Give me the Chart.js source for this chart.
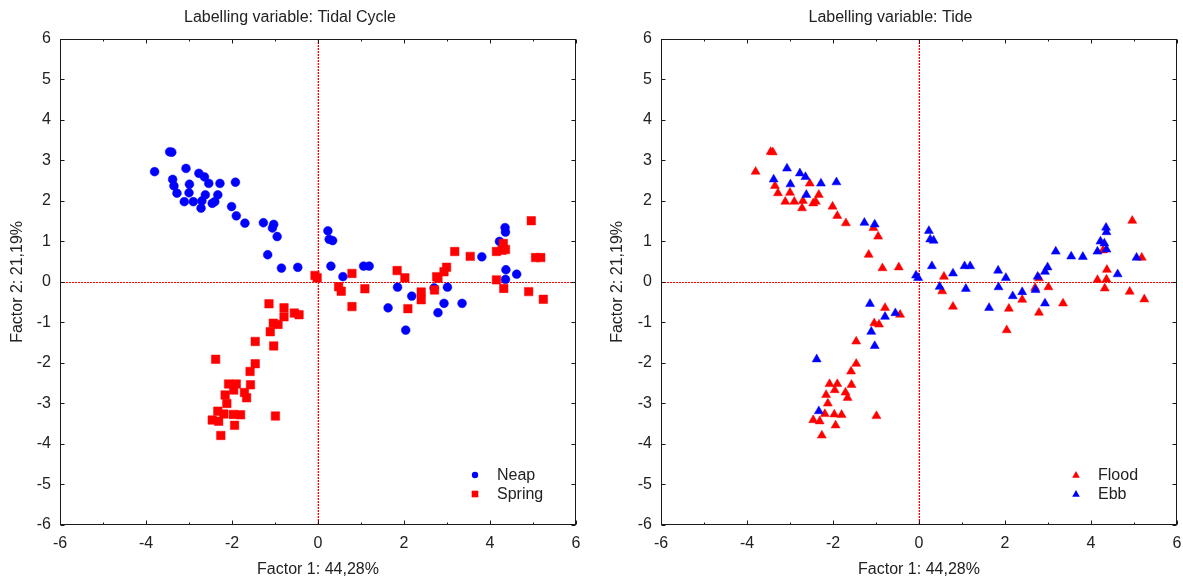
<!DOCTYPE html>
<html>
<head>
<meta charset="utf-8">
<script src="https://cdn.jsdelivr.net/npm/chart.js@4.4.0/dist/chart.umd.min.js"></script>
<style>
  html, body { margin: 0; padding: 0; background: #fff; }
  #wrap { position: relative; width: 1183px; height: 580px; overflow: hidden; }
  .box { position: absolute; top: 0; height: 580px; }
  #left { left: 0; width: 596px; }
  #right { left: 600px; width: 583px; }
</style>
</head>
<body>
<div id="wrap">
  <div class="box" id="left"><canvas id="cycleChart"></canvas></div>
  <div class="box" id="right"><canvas id="tideChart"></canvas></div>
</div>
<script>
// Factor scores, Neap samples (F = flood, E = ebb)
const neapF1 = [-3.45, -3.40, -3.80, -3.07, -2.77, -2.64, -3.38, -3.35, -2.99, -3.00, -3.28, -2.54, -2.28, -1.92, -2.62, -2.33,
  -3.11, -2.90, -2.70, -2.72, -2.46, -2.40, -2.01, -1.90, -1.70, -1.27, -1.03, -1.06, -0.95, -1.17, -0.85, -0.47,
  0.23, 0.26, 0.34, 0.30, 0.58, 1.06, 1.19, 1.85, 2.18, 1.63, 2.04, 2.70, 3.01, 2.93, 2.79, 3.35, 3.81,
  4.35, 4.36, 4.22, 4.37, 4.36, 4.62];
const neapF2 = [3.21, 3.20, 2.72, 2.80, 2.68, 2.59, 2.53, 2.37, 2.41, 2.20, 2.19, 2.43, 2.43, 2.46, 2.15, 2.15,
  1.98, 1.98, 2.00, 1.82, 1.94, 1.98, 1.86, 1.63, 1.45, 1.46, 1.42, 1.33, 1.12, 0.67, 0.34, 0.36,
  1.26, 1.05, 1.02, 0.39, 0.13, 0.39, 0.39, -0.13, -0.35, -0.64, -1.19, -0.15, -0.13, -0.53, -0.76, -0.53, 0.62,
  1.34, 1.23, 1.00, 0.30, 0.06, 0.19];
const neapTide = ['F', 'F', 'F', 'E', 'E', 'E', 'E', 'F', 'E', 'F', 'F', 'F', 'E', 'E', 'E', 'F',
  'F', 'F', 'F', 'F', 'F', 'F', 'F', 'F', 'F', 'E', 'E', 'F', 'F', 'F', 'F', 'F',
  'E', 'E', 'E', 'E', 'F', 'E', 'E', 'E', 'E', 'E', 'F', 'F', 'F', 'E', 'F', 'F', 'E',
  'E', 'E', 'E', 'F', 'F', 'E'];

// Factor scores, Spring samples
const springF1 = [-0.07, -0.02, 0.48, 0.54, 0.79, 1.09, 0.79, 1.84, 2.02, 2.09, 2.40, 2.40, 2.71, 2.76, 2.79, 2.93,
  2.99, 3.18, 3.54, 4.15, 4.31, 4.36, 4.15, 4.32, 4.96, 5.06, 5.18, 4.90, 5.24, 4.28,
  -1.14, -0.79, -0.79, -0.55, -0.44, -1.04, -0.93, -1.11, -1.46, -1.03, -2.38, -1.46, -1.58, -1.57, -2.08, -1.90,
  -1.96, -2.16, -1.71, -1.66, -2.12, -2.33, -2.19, -1.97, -1.80, -2.46, -2.31, -1.94, -2.26, -0.99];
const springF2 = [0.16, 0.10, -0.12, -0.23, 0.21, -0.17, -0.61, 0.28, 0.10, -0.66, -0.25, -0.44, -0.20, 0.13, 0.09, 0.25,
  0.36, 0.75, 0.63, 0.75, 0.95, 0.80, 0.05, -0.16, 1.51, 0.60, 0.60, -0.24, -0.43, 0.78,
  -0.54, -0.64, -0.86, -0.77, -0.81, -1.02, -1.05, -1.23, -1.47, -1.58, -1.91, -2.02, -2.21, -2.54, -2.52, -2.52,
  -2.67, -2.79, -2.73, -2.86, -3.00, -3.19, -3.26, -3.27, -3.28, -3.41, -3.44, -3.54, -3.79, -3.31];
const springTide = ['E', 'E', 'E', 'F', 'E', 'E', 'F', 'E', 'E', 'F', 'E', 'F', 'E', 'E', 'F', 'E',
  'E', 'E', 'E', 'E', 'E', 'E', 'F', 'F', 'F', 'E', 'F', 'F', 'F', 'F',
  'E', 'F', 'E', 'E', 'F', 'F', 'F', 'E', 'F', 'E', 'E', 'F', 'F', 'F', 'F', 'F',
  'F', 'F', 'F', 'F', 'F', 'E', 'F', 'F', 'F', 'F', 'F', 'F', 'F', 'F'];

const axisTicksX = [-6, -5, -4, -3, -2, -1, 0, 1, 2, 3, 4, 5, 6];
const axisTicksY = [-6, -5, -4, -3, -2, -1, 0, 1, 2, 3, 4, 5, 6];

const BLUE = '#0000ff';
const RED = '#ff0000';
const TEXT = '#222222';
const FONT = "Arial, 'Liberation Sans', sans-serif";

function toPoints(xs, ys) {
    return xs.map((x, i) => ({ x: x, y: ys[i] }));
}

function pickTide(code) {
    const pts = [];
    neapF1.forEach((x, i) => { if (neapTide[i] === code) pts.push({ x: x, y: neapF2[i] }); });
    springF1.forEach((x, i) => { if (springTide[i] === code) pts.push({ x: x, y: springF2[i] }); });
    return pts;
}

function drawMarker(ctx, style, x, y, r, color) {
    ctx.save();
    ctx.fillStyle = color;
    ctx.beginPath();
    if (style === 'circle') {
        ctx.arc(x, y, r, 0, Math.PI * 2);
    } else if (style === 'rect') {
        ctx.rect(x - r, y - r, 2 * r, 2 * r);
    } else {
        ctx.moveTo(x, y - r);
        ctx.lineTo(x + r * 0.95, y + r * 0.7);
        ctx.lineTo(x - r * 0.95, y + r * 0.7);
        ctx.closePath();
    }
    ctx.fill();
    ctx.restore();
}

// frame, inward ticks, dotted zero lines and the in-plot legend
function framePlugin(legendItems) {
    return {
        id: 'frame',
        beforeDatasetsDraw(chart) {
            const { ctx, chartArea: a, scales: { x, y } } = chart;
            const x0 = Math.round(x.getPixelForValue(0));
            const y0 = Math.round(y.getPixelForValue(0));
            ctx.save();
            // faint pink halo so the thin line keeps its colour
            ctx.fillStyle = 'rgba(255,0,0,0.3)';
            for (let py = Math.round(a.top); py < a.bottom; py += 3) ctx.fillRect(x0 - 1, py, 1, 2);
            ctx.fillStyle = RED;
            // short red dashes, 2px on / 1px off
            for (let py = Math.round(a.top); py < a.bottom; py += 3) ctx.fillRect(x0, py, 1, 2);
            for (let px = Math.round(a.left); px < a.right; px += 3) ctx.fillRect(px, y0, 2, 1);
            ctx.restore();
        },
        afterDatasetsDraw(chart) {
            const { ctx, chartArea: a, scales: { x, y } } = chart;
            ctx.save();
            ctx.strokeStyle = '#1a1a1a';
            ctx.lineWidth = 1;
            const L = Math.round(a.left) + 0.5, R = Math.round(a.right) - 0.5;
            const T = Math.round(a.top) + 0.5, B = Math.round(a.bottom) - 0.5;
            ctx.strokeRect(L, T, R - L, B - T);
            ctx.beginPath();
            axisTicksX.forEach(v => {
                const px = Math.round(x.getPixelForValue(v)) + 0.5;
                const len = v % 2 === 0 ? 4 : 2;
                ctx.moveTo(px, B); ctx.lineTo(px, B - len);
                ctx.moveTo(px, T); ctx.lineTo(px, T + len);
            });
            axisTicksY.forEach(v => {
                const py = Math.round(y.getPixelForValue(v)) + 0.5;
                ctx.moveTo(L, py); ctx.lineTo(L + 4, py);
                ctx.moveTo(R, py); ctx.lineTo(R - 4, py);
            });
            ctx.stroke();

            ctx.font = '16px ' + FONT;
            ctx.textBaseline = 'middle';
            legendItems.forEach((item, i) => {
                const my = a.bottom - 50 + i * 19;
                drawMarker(ctx, item.style, a.right - 101, my, item.r, item.color);
                ctx.fillStyle = TEXT;
                ctx.fillText(item.label, a.right - 79, my + 1);
            });
            ctx.restore();
        }
    };
}

function makeChart(canvasId, title, datasets, legendItems, yWidth, padRight) {
    const ctx = document.getElementById(canvasId).getContext('2d');
    return new Chart(ctx, {
        type: 'scatter',
        data: { datasets: datasets },
        options: {
            responsive: true,
            maintainAspectRatio: false,
            animation: false,
            layout: { padding: { left: 4, right: padRight, top: 0, bottom: 0 } },
            plugins: {
                legend: { display: false },
                tooltip: { enabled: false },
                title: {
                    display: true,
                    text: title,
                    color: TEXT,
                    font: { family: FONT, size: 16, weight: 'normal' },
                    padding: { top: 8, bottom: 11.6 }
                }
            },
            scales: {
                x: {
                    type: 'linear',
                    min: -6, max: 6,
                    grid: { display: false, drawTicks: false },
                    border: { display: false },
                    ticks: { stepSize: 2, padding: 9, color: TEXT, font: { family: FONT, size: 16 } },
                    title: {
                        display: true,
                        text: 'Factor 1: 44,28%',
                        color: TEXT,
                        font: { family: FONT, size: 16 },
                        padding: { top: 0, bottom: 1 }
                    },
                    afterFit(scale) {
                        scale.height = 55;
                        scale.paddingRight = 0;
                        scale.paddingLeft = 0;
                    }
                },
                y: {
                    type: 'linear',
                    min: -6, max: 6,
                    grid: { display: false, drawTicks: false },
                    border: { display: false },
                    ticks: { stepSize: 1, padding: 9, color: TEXT, font: { family: FONT, size: 16 } },
                    title: {
                        display: true,
                        text: 'Factor 2: 21,19%',
                        color: TEXT,
                        font: { family: FONT, size: 16 },
                        padding: { top: 4, bottom: 0 }
                    },
                    afterFit(scale) { scale.width = yWidth; }
                }
            }
        },
        plugins: [framePlugin(legendItems)]
    });
}

// left: labelled by tidal cycle (Spring drawn on top)
makeChart('cycleChart', 'Labelling variable: Tidal Cycle', [
    {
        label: 'Spring',
        data: toPoints(springF1, springF2),
        pointStyle: 'rect',
        pointRadius: 6,
        backgroundColor: RED,
        borderColor: RED,
        borderWidth: 0.5
    },
    {
        label: 'Neap',
        data: toPoints(neapF1, neapF2),
        pointStyle: 'circle',
        pointRadius: 4.4,
        backgroundColor: BLUE,
        borderColor: BLUE,
        borderWidth: 0.5
    }
], [
    { label: 'Neap', style: 'circle', r: 3.2, color: BLUE },
    { label: 'Spring', style: 'rect', r: 3.3, color: RED }
], 56, 20);

// right: labelled by tide (Ebb drawn on top)
makeChart('tideChart', 'Labelling variable: Tide', [
    {
        label: 'Ebb',
        data: pickTide('E'),
        pointStyle: 'triangle',
        pointRadius: 5.2,
        backgroundColor: BLUE,
        borderColor: BLUE,
        borderWidth: 0.5
    },
    {
        label: 'Flood',
        data: pickTide('F'),
        pointStyle: 'triangle',
        pointRadius: 5.2,
        backgroundColor: RED,
        borderColor: RED,
        borderWidth: 0.5
    }
], [
    { label: 'Flood', style: 'triangle', r: 4, color: RED },
    { label: 'Ebb', style: 'triangle', r: 4, color: BLUE }
], 57, 6);
</script>
</body>
</html>
